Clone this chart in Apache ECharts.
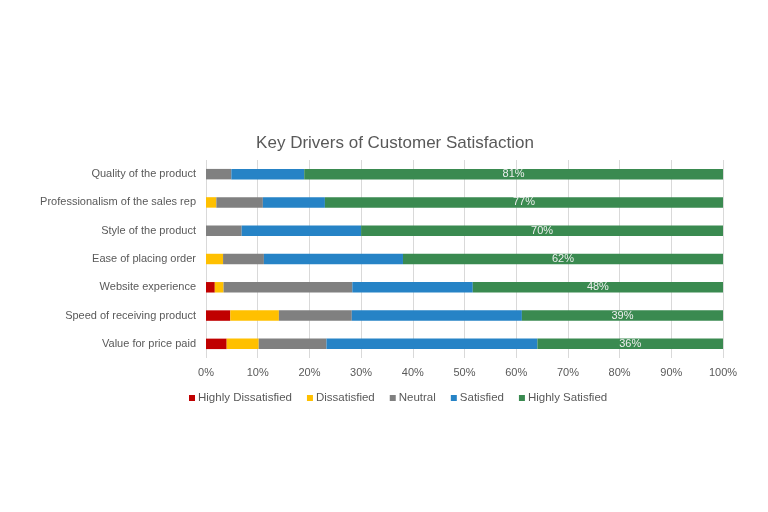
<!DOCTYPE html>
<html><head><meta charset="utf-8">
<script src="https://cdn.jsdelivr.net/npm/echarts@6/dist/echarts.min.js"></script>
<style>html,body{margin:0;padding:0;background:#fff}#c{width:768px;height:512px}</style>
</head><body><div id="c"></div>
<script>
const categories = ["Quality of the product","Professionalism of the sales rep","Style of the product","Ease of placing order","Website experience","Speed of receiving product","Value for price paid"];
const seriesNames = ["Highly Dissatisfied","Dissatisfied","Neutral","Satisfied","Highly Satisfied"];
const highlyDissatisfied = [0, 0, 0, 0, 1.7, 4.7, 4];
const dissatisfied = [0, 2, 0, 3.3, 1.7, 9.4, 6.2];
const neutral = [4.9, 9, 6.9, 7.9, 24.9, 14.1, 13.1];
const satisfied = [14.1, 12, 23.1, 26.9, 23.3, 32.9, 40.8];
const highlySatisfied = [81, 77, 70, 61.9, 48.4, 38.9, 35.9];
const tickLabels = ["0%","10%","20%","30%","40%","50%","60%","70%","80%","90%","100%"];
const colors = ["#C00000","#FFC000","#808080","#2683C6","#3A8A50"];
const values = [highlyDissatisfied, dissatisfied, neutral, satisfied, highlySatisfied];

const chart = echarts.init(document.getElementById('c'));
const font = "'Liberation Sans', Arial, sans-serif";
chart.setOption({
  animation: false,
  title: {text: "Key Drivers of Customer Satisfaction", left: 390, top: 130, textAlign: 'center',
    textStyle: {fontFamily: font, fontSize: 17, fontWeight: 'normal', color: '#595959'}},
  legend: {data: seriesNames, top: 387, left: 184, itemWidth: 6, itemHeight: 6, itemGap: 15,
    icon: 'rect', textStyle: {fontFamily: font, fontSize: 11.5, color: '#595959', padding: [0,0,0,-2]}},
  grid: {left: 206, right: 45, top: 160, bottom: 154},
  xAxis: {type: 'value', min: 0, max: 100, interval: 10,
    axisLabel: {formatter: v => tickLabels[Math.round(v/10)], fontFamily: font, fontSize: 11, color: '#595959', margin: 9},
    splitLine: {lineStyle: {color: '#D9D9D9'}}, axisLine: {show: false}, axisTick: {show: false}},
  yAxis: {type: 'category', data: categories, inverse: true,
    axisLine: {show: false}, axisTick: {show: false},
    axisLabel: {fontFamily: font, fontSize: 11, color: '#595959', margin: 10}},
  series: seriesNames.map((n, i) => ({
    name: n, type: 'bar', stack: 'total', barWidth: '37%',
    itemStyle: {color: colors[i]},
    data: values[i],
    label: i === 4 ? {show: true, position: 'inside', color: '#EEEEEE', fontFamily: font, fontSize: 11,
      formatter: p => Math.round(p.value) + '%'} : {show: false}
  }))
});
</script></body></html>
